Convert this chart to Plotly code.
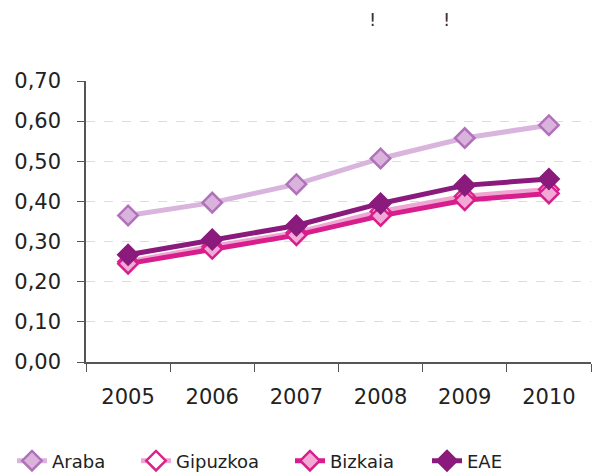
import plotly.graph_objects as go

years = ["2005", "2006", "2007", "2008", "2009", "2010"]
araba = [0.365, 0.397, 0.443, 0.507, 0.558, 0.590]
gipuzkoa = [0.250, 0.288, 0.322, 0.375, 0.413, 0.430]
bizkaia = [0.245, 0.282, 0.316, 0.364, 0.403, 0.420]
eae = [0.267, 0.305, 0.340, 0.395, 0.440, 0.456]
y_ticks = [0.0, 0.1, 0.2, 0.3, 0.4, 0.5, 0.6, 0.7]
y_labels = ["0,00", "0,10", "0,20", "0,30", "0,40", "0,50", "0,60", "0,70"]

FONT = "DejaVu Sans"

series = [
    ("Araba", araba, "#D9B5DD", "#D9B3DC", "#B171BA", 79),
    ("Gipuzkoa", gipuzkoa, "#EEA6D2", "#FFFFFF", "#D8248C", 109),
    ("Bizkaia", bizkaia, "#D81E8C", "#F2A9D6", "#D81E8C", 92),
    ("EAE", eae, "#8A1A7C", "#8A1A7C", "#8A1A7C", 40),
]

fig = go.Figure()
for name, vals, lc, mfill, mline, lw in series:
    fig.add_trace(go.Scatter(
        x=years, y=vals, name=name, mode="lines+markers",
        line=dict(color=lc, width=5),
        marker=dict(symbol="diamond", size=15, color=mfill,
                    line=dict(color=mline, width=2.5)),
        legendwidth=lw,
    ))

fig.update_layout(
    width=596, height=474,
    margin=dict(l=86, r=5, t=81, b=112, autoexpand=False),
    paper_bgcolor="white", plot_bgcolor="white",
    font=dict(family=FONT, size=20, color="#222222"),
    showlegend=True,
    legend=dict(orientation="h", xref="container", yref="container",
                x=12 / 596, y=(474 - 461) / 474,
                xanchor="left", yanchor="middle",
                font=dict(family=FONT, size=18, color="#222222"),
                itemwidth=30, tracegroupgap=0),
    xaxis=dict(type="category", tickson="boundaries", ticks="outside",
               ticklen=8, tickcolor="#555555", showline=True,
               linecolor="#555555", linewidth=1.5, showgrid=False,
               tickfont=dict(size=21), ticklabelstandoff=15,
               range=[-0.5, 5.5], automargin=False),
    yaxis=dict(range=[0, 0.7], tickvals=y_ticks, ticktext=y_labels,
               ticks="outside", ticklen=7, tickcolor="#555555",
               showline=True, linecolor="#555555", linewidth=1.5,
               showgrid=True, gridcolor="#DDDDDD", griddash="dash",
               gridwidth=1, zeroline=False, tickfont=dict(size=21),
               ticklabelstandoff=12, automargin=False),
)
for xp in [372, 446]:
    fig.add_annotation(text="!", xref="paper", yref="paper",
                       x=(xp - 86) / 505, y=1 + (81 - 20) / 281,
                       xanchor="center", yanchor="middle",
                       showarrow=False, font=dict(size=18, color="#333333"))

fig.write_html("out.html", config={"displayModeBar": False},
               post_script="document.body.style.margin='0';document.body.style.padding='0';")
